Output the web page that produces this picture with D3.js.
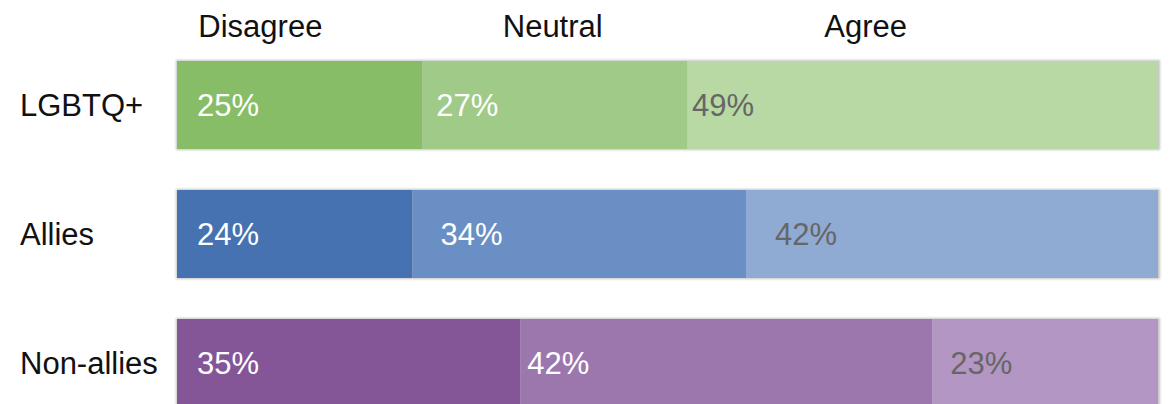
<!DOCTYPE html>
<html>
<head>
<meta charset="utf-8">
<script src="https://cdn.jsdelivr.net/npm/d3@7"></script>
<style>
  html, body { margin: 0; padding: 0; background: #fff; }
  svg { display: block; font-family: "Liberation Sans", Arial, sans-serif; }
</style>
</head>
<body>
<svg id="chart" width="1170" height="404"></svg>
<script>
// Response groups and answer categories
const groups = ["LGBTQ+", "Allies", "Non-allies"];
const responses = ["Disagree", "Neutral", "Agree"];

// Share of each group giving each response (%)
const disagree = [25, 24, 35];
const neutral  = [27, 34, 42];
const agree    = [49, 42, 23];

// Where each column heading sits, in percent of the bar
const headingAt = [8.5, 38.3, 70.2];

// Horizontal nudge of each value label from its segment start (px)
const labelNudge = [
  [20, 14, 5],
  [20, 28, 29],
  [20, 7, 18]
];

// Colour ramps per group: dark -> light
const palette = [
  ["#88bd67", "#a0ca88", "#b8d8a4"],
  ["#4672b2", "#6a8fc4", "#8fabd4"],
  ["#845597", "#9c77ad", "#b396c3"]
];
const labelColor = ["#ffffff", "#ffffff", "#666666"];

const svg = d3.select("#chart");

const x = d3.scaleLinear().domain([0, 100]).range([177, 1158]).clamp(true);
const y = d3.scaleBand().domain(groups).range([61, 407]).paddingInner(0.318).paddingOuter(0);

const rows = groups.map((g, i) => {
  const vals = [disagree[i], neutral[i], agree[i]];
  let acc = 0;
  const segs = vals.map((v, j) => {
    const s = { group: g, row: i, col: j, value: v, x0: acc, x1: acc + v };
    acc += v;
    return s;
  });
  // the last segment runs to the bar end
  segs[segs.length - 1].x1 = Math.max(acc, 100);
  return { group: g, row: i, segs };
});

// Soft edge shadow under each bar
const defs = svg.append("defs");
defs.append("filter").attr("id", "soft")
  .attr("x", "-5%").attr("y", "-20%").attr("width", "110%").attr("height", "140%")
  .append("feGaussianBlur").attr("stdDeviation", 1.2);

const rowG = svg.selectAll("g.row").data(rows).join("g").attr("class", "row");

rowG.append("rect")
  .attr("x", x(0) - 1)
  .attr("y", d => y(d.group) - 1)
  .attr("width", x(100) - x(0) + 3)
  .attr("height", y.bandwidth() + 2)
  .attr("fill", "#c4c4c4")
  .attr("filter", "url(#soft)");

rowG.selectAll("rect.seg").data(d => d.segs).join("rect")
  .attr("class", "seg")
  .attr("x", d => x(d.x0))
  .attr("y", d => y(d.group))
  .attr("width", d => x(d.x1) - x(d.x0))
  .attr("height", y.bandwidth())
  .attr("fill", d => palette[d.row][d.col]);

rowG.selectAll("text.val").data(d => d.segs).join("text")
  .attr("class", "val")
  .attr("x", d => x(d.x0) + labelNudge[d.row][d.col])
  .attr("y", d => y(d.group) + y.bandwidth() / 2 + 11)
  .attr("font-size", 31)
  .attr("fill", d => labelColor[d.col])
  .text(d => d.value + "%");

// Group names on the left
svg.selectAll("text.group").data(groups).join("text")
  .attr("class", "group")
  .attr("x", 20)
  .attr("y", d => y(d) + y.bandwidth() / 2 + 11)
  .attr("font-size", 31)
  .attr("fill", "#111")
  .text(d => d);

// Column headings
svg.selectAll("text.head").data(responses).join("text")
  .attr("class", "head")
  .attr("x", (d, i) => x(headingAt[i]))
  .attr("y", 37)
  .attr("text-anchor", "middle")
  .attr("font-size", 31)
  .attr("fill", "#111")
  .text(d => d);
</script>
</body>
</html>
